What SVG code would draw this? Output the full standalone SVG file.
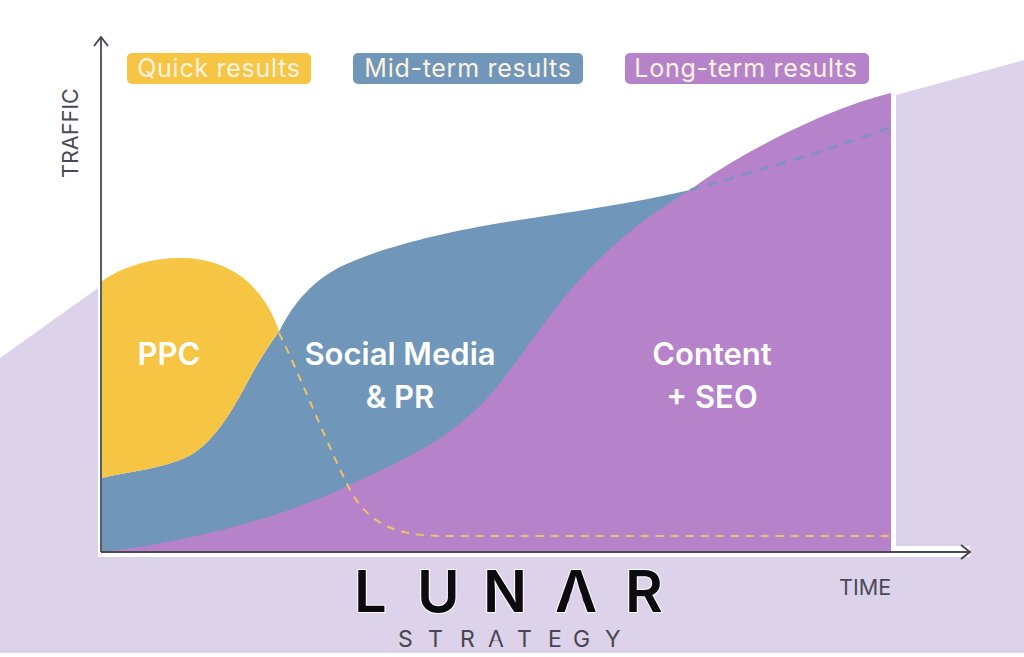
<svg xmlns="http://www.w3.org/2000/svg" width="1024" height="657" viewBox="0 0 1024 657">
<defs>
<marker id="open" viewBox="0 0 14 16" refX="12" refY="8" markerWidth="14" markerHeight="16" markerUnits="userSpaceOnUse" orient="auto"><path d="M3 1 L12 8 L3 15" fill="none" stroke="#44424e" stroke-width="1.8"/></marker>
</defs>
<style>
text{font-family:"Inter","Liberation Sans",sans-serif}
.tag{fill:#fdf3e0;font-size:25px;letter-spacing:.72px;text-anchor:middle}
.big{fill:#fff;font-size:31px;font-weight:600;text-anchor:middle}
.axis{fill:#4a4a55;font-size:21.6px}
.conn{fill:none;stroke:#4a4a55;stroke-width:1.8}
</style>
<rect width="1024" height="657" fill="#fff"/>
<path id="backdrop" d="M0 358 L98 288 V557 H970 V546 H896 V95 L1024 60 V653 H0Z" fill="#dcd2ea"/>
<g id="mid-term-area"><path d="M102 478 C130 471 162 469 187 457 C207 447 225 425 247 383 C258 362 268 347 280 330 C295 300 315 280 340 267 C375 250 430 235 500 223 C570 212 630 204 690 190 V552 H102Z" fill="#7096b9"/></g>
<g id="quick-area"><path d="M102 281 C125 265 155 257 185 258 C235 260 265 290 279 331 C268 347 258 362 247 383 C225 425 207 447 187 457 C162 469 130 471 102 478Z" fill="#f6c544"/></g>
<g id="long-term-area"><path d="M102 552 C170 545 280 520 347 486 C400 462 450 440 490 395 C520 360 540 325 573 287 C605 250 640 220 690 190 C730 160 820 110 891 93 V552Z" fill="#b682c9"/></g>
<g id="connectors">
<path d="M279 333 C300 375 325 440 350 490 C372 530 405 535 440 536 L891 536" fill="none" stroke="#f0c268" stroke-width="2" stroke-dasharray="8 7"/>
<path d="M690 190 C760 170 830 150 891 127" fill="none" stroke="#7f93c0" stroke-width="2.8" stroke-dasharray="10 8"/>
<path class="conn" d="M101 552 V37" marker-end="url(#open)"/>
<path class="conn" d="M101 552 H970" marker-end="url(#open)"/>
</g>
<g id="tag-quick"><rect x="127" y="53" width="184" height="31" rx="5" fill="#f6c544"/><text class="tag" x="219" y="77">Quick results</text></g>
<g id="tag-mid"><rect x="353" y="53" width="230" height="31" rx="5" fill="#7096b9"/><text class="tag" x="468" y="77">Mid-term results</text></g>
<g id="tag-long"><rect x="625" y="53" width="244" height="31" rx="5" fill="#b682c9"/><text class="tag" x="746" y="77">Long-term results</text></g>
<g id="label-ppc"><text class="big" x="169" y="365">PPC</text></g>
<g id="label-social"><text class="big" x="400" y="365">Social Media</text><text class="big" x="400" y="408">&amp; PR</text></g>
<g id="label-content"><text class="big" x="712" y="365">Content</text><text class="big" x="712" y="408">+ SEO</text></g>
<text class="axis" transform="translate(78 178) rotate(-90)">TRAFFIC</text>
<text class="axis" x="839" y="595">TIME</text>
<g id="logo">
<text x="354 417 483 555 625" y="612" font-size="58" font-weight="600" fill="#0c0c10" stroke="#fff" stroke-width="2" paint-order="stroke">LUNAR</text>
<path d="M574.5 589 H577.5 L581.5 594 L584.5 605 H567.5 L570.5 594Z" fill="#dcd2ea"/>
<text x="398 428 460 488 517 548 573 605" y="647" font-size="23" fill="#48464e">STRATEGY</text>
<path d="M493.5 640.5 H498.5 L500.5 645 H491.5Z" fill="#dcd2ea"/>
</g>
</svg>
